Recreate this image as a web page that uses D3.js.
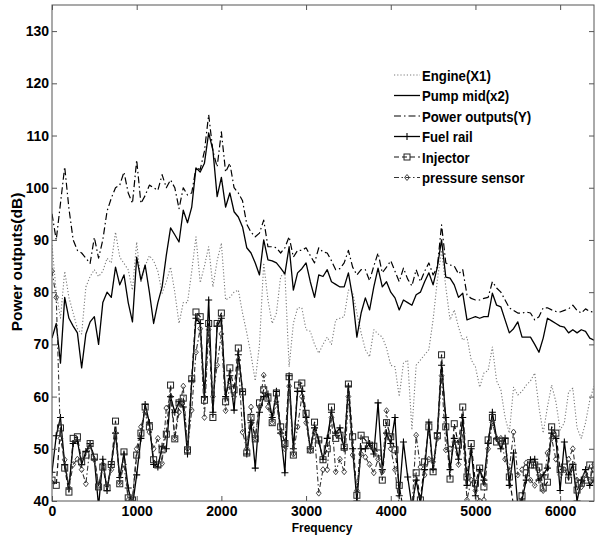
<!DOCTYPE html>
<html><head><meta charset="utf-8">
<script src="https://cdn.jsdelivr.net/npm/d3@7/dist/d3.min.js"></script>
<style>
html,body{margin:0;padding:0;background:#fff;}
svg{display:block;}
text{font-family:"Liberation Sans",Arial,Helvetica,sans-serif;font-weight:bold;fill:#000;}
</style></head>
<body>
<svg id="chart" width="597" height="538"></svg>
<script>
// Frequency grid (Hz), one sample every 50 Hz from 0 to 6400
const frequencies = d3.range(0, 6401, 50);
const xTicks = [0, 1000, 2000, 3000, 4000, 5000, 6000];
const yTicks = [40, 50, 60, 70, 80, 90, 100, 110, 120, 130];
const seriesNames = ["Engine(X1)", "Pump mid(x2)", "Power outputs(Y)", "Fuel rail", "Injector", "pressure sensor"];

const engine = [
  89, 80, 75, 84, 79, 76, 73, 72, 81, 83,
  84.3, 83, 84, 86.5, 85.6, 91.5, 86.7, 85.5, 84.3, 80.4,
  89.6, 81.8, 85, 87, 86, 84, 79.8, 82, 84.8, 80,
  74, 78, 78, 84, 90.6, 81.8, 85, 88.7, 81, 86,
  89.4, 78.5, 79, 80, 80.4, 76, 72.2, 68, 63, 70,
  85.6, 78.5, 74, 76, 83, 83.7, 65.7, 74, 77, 77,
  72.8, 72.5, 70, 68.3, 70, 71.4, 70, 74.7, 75, 75.3,
  80.4, 80, 76, 72.2, 69, 67.6, 72.8, 72, 71.4, 69.3,
  66, 65.7, 60, 66.4, 67, 53.6, 66, 67, 68, 69,
  74.7, 82.3, 88, 81, 74.7, 76.6, 73.3, 70.8, 71.4, 67,
  65.7, 61.8, 64.5, 65, 69.5, 63, 61.3, 56, 53, 61.8,
  60.3, 61, 62.2, 63, 64.5, 58, 53, 58, 62.2, 59,
  53.6, 55, 60.9, 61.6, 54, 52, 55, 59.3, 62
];
const pumpMid = [
  71.2, 74, 66.4, 79, 75, 73.5, 72.2, 65.5, 72, 74.3,
  75.3, 70, 78, 80, 79, 84.8, 81.4, 83.3, 78, 74.3,
  86.7, 82.3, 85.2, 80, 74, 78, 81, 87.1, 92.3, 91,
  89.6, 95.7, 93.3, 96.3, 103.8, 103, 104.7, 110.5, 107.2, 98.3,
  102, 96.3, 99, 95.4, 94.4, 92.5, 88.5, 87.5, 85.6, 83.3,
  90, 86.2, 86, 85.6, 84.6, 83.5, 88.7, 80.4, 83.7, 84.5,
  85.6, 82, 79, 83.3, 83, 84.3, 82, 81.5, 81, 81,
  83.7, 79, 71.4, 76, 78.9, 76.6, 81, 84.6, 81, 82,
  80, 78.9, 76.6, 78.5, 78, 77.5, 79.5, 80, 82, 83.7,
  81.4, 84.8, 90, 82.9, 82.7, 81.4, 79, 79.8, 74.7, 75,
  75.3, 75, 75.3, 75.3, 79.8, 77.5, 77.2, 74.7, 72.2, 73,
  74.3, 71.4, 71.4, 71.4, 70, 68.5, 71.2, 75, 74.5, 74,
  73.5, 73.3, 72.2, 72.8, 72.2, 72.8, 72.5, 71.2, 70.8
];
const powerOutputs = [
  95, 90, 97, 104, 96, 90, 88, 87.5, 86.5, 85.5,
  90.5, 86.5, 90, 95.5, 98, 100, 100.5, 103, 99, 97,
  105.3, 97, 98.5, 100.5, 100, 99.5, 102.5, 100, 101.5, 100,
  96, 100, 98.6, 99, 103.8, 103.5, 107, 114, 107, 104,
  110.7, 103, 104.7, 100, 99, 97.5, 93, 91.5, 90.6, 91.3,
  93.8, 88.7, 88.7, 88.5, 87.5, 88.5, 90.6, 86.7, 88, 88,
  88.5, 87, 85.6, 88.5, 87.7, 87.5, 86, 84.3, 84.5, 85.6,
  88, 84.8, 83.3, 84.3, 84.3, 82.2, 85, 87.5, 83.7, 84.8,
  86, 84, 82, 84.6, 82.5, 81.2, 84.3, 82, 84, 85.6,
  83.3, 84.8, 92.9, 85.6, 85.2, 85, 83.5, 84.3, 79.5, 78.8,
  78.5, 78.5, 78.8, 79, 82, 80.8, 80, 78.5, 77, 76.5,
  76, 76, 76.2, 76, 74.7, 75.3, 77, 77, 76.6, 76.3,
  76.2, 76.5, 76.8, 77.5, 76.5, 76, 76.8, 76.3, 76.2
];
const fuelRail = [
  45.5, 52.5, 56, 47, 42.5, 51, 51.5, 47, 49.5, 51,
  48, 39, 48, 42, 47, 53, 44.5, 49, 42.5, 39,
  45, 52, 58.5, 55, 47, 46.5, 50.5, 50, 60, 57,
  59, 58, 49, 63, 75, 74, 60, 78.5, 57, 73.5,
  75, 60, 64, 57.4, 68, 61, 49, 55, 46.3, 57,
  60, 60.5, 56, 61, 53, 45.4, 64, 50, 61, 61,
  56, 50, 54, 51.5, 48, 52, 57, 53, 54, 50,
  62, 50, 40, 50, 50, 51, 49, 58.8, 46, 53,
  51, 56, 41, 51.3, 44.6, 39, 44, 39.5, 46, 55.1,
  46, 53, 66, 56, 46, 52, 48, 56, 43, 50,
  41, 46, 44, 51, 57, 52, 50, 52, 43, 49.2,
  39, 40.2, 44, 47.9, 48, 44, 45, 46.3, 53, 52,
  42, 51.3, 45, 47, 40, 44, 46, 43, 44
];
const injector = [
  44, 43, 54, 46.3, 41.7, 52, 52.3, 47.5, 48.8, 51,
  48.4, 42.7, 46.5, 42.5, 47, 55.3, 43.3, 49.4, 40.6, 40.2,
  48.8, 53, 58, 54.2, 47.9, 46.9, 49.8, 52.8, 62.2, 51.9,
  58.8, 59.7, 49.8, 63.4, 76.2, 75.3, 59.3, 74, 56, 74,
  76, 59, 65.5, 61.3, 69.3, 60.9, 49.2, 56, 51.9, 58.8,
  61.3, 59.7, 55, 60.7, 54.2, 51, 63.8, 48.8, 62.2, 62.6,
  56.8, 49.8, 55.1, 51.7, 47.9, 50, 58, 52, 52.6, 50.3,
  62.4, 52.3, 41.1, 52.6, 51.7, 50.7, 50.5, 49.2, 44, 55,
  52.3, 49.8, 43, 38, 36, 37, 45.4, 40.2, 47.5, 54.2,
  45.6, 52.5, 68, 54.2, 44.2, 54.8, 50.7, 58, 44.6, 51,
  43.4, 46.3, 42.7, 51.7, 56, 51.3, 51.5, 51.5, 44.6, 39,
  38, 41, 45.4, 46.9, 46.9, 46.5, 42.5, 43.6, 54.2, 53,
  46, 46.5, 44, 46.5, 42.1, 43.4, 44, 46.9, 45
];
const pressureSensor = [
  84, 79, 52, 47.9, 42.5, 47, 48, 46, 43.3, 50.5,
  47.9, 43, 47, 43, 46, 53, 43.5, 47, 40.2, 40,
  50, 54.2, 57, 53.2, 50, 52, 47.2, 57.8, 60, 52,
  57, 62, 50, 57.4, 68.5, 73, 56, 72.8, 60, 66,
  72, 57.3, 62, 60, 67, 53.2, 50, 58, 52, 58,
  64.1, 58, 55, 59, 53, 50, 62, 49, 54.2, 60,
  55, 49.6, 53, 41.5, 46, 46, 56, 45.6, 48, 45.6,
  60, 48.8, 42, 49, 48.4, 47, 45.4, 48, 45.6, 57.3,
  50, 46, 39, 37, 36, 38, 52.6, 46.5, 45, 48,
  47.5, 52, 64, 49.8, 50, 51.3, 47, 53, 40.2, 44,
  42, 40, 40.2, 50, 55, 52, 52, 48, 46, 53.2,
  45, 46, 47.3, 44, 43, 45, 42, 49.2, 52, 48,
  45, 46, 48, 50, 44, 42.7, 45, 44, 47
];

const W = 597, H = 538;
const plot = {left: 52, right: 594, top: 5, bottom: 501};
const svg = d3.select("#chart");

const x = d3.scaleLinear().domain([0, 6400]).range([plot.left, plot.right]);
const y = d3.scaleLinear().domain([40, 135]).range([plot.bottom, plot.top]);

svg.append("defs").append("clipPath").attr("id", "clip")
  .append("rect").attr("x", plot.left).attr("y", plot.top)
  .attr("width", plot.right - plot.left).attr("height", plot.bottom - plot.top);

const series = [
  {name: seriesNames[0], values: engine, stroke: "#7a7a7a", width: 1.1, dash: "1.2,2", marker: null},
  {name: seriesNames[1], values: pumpMid, stroke: "#000", width: 1.3, dash: null, marker: null},
  {name: seriesNames[2], values: powerOutputs, stroke: "#000", width: 1.2, dash: "7,3,1.5,3", marker: null},
  {name: seriesNames[3], values: fuelRail, stroke: "#000", width: 1.3, dash: null, marker: "plus"},
  {name: seriesNames[4], values: injector, stroke: "#111", width: 1.2, dash: "5,3", marker: "square"},
  {name: seriesNames[5], values: pressureSensor, stroke: "#333", width: 1.1, dash: "5,2.5,1.5,2.5", marker: "diamond"}
];

const line = d3.line().x(d => x(d[0])).y(d => y(d[1]));
const g = svg.append("g").attr("clip-path", "url(#clip)");

function drawMarker(sel, type, size) {
  const h = size / 2;
  if (type === "square") {
    sel.append("rect").attr("x", -h).attr("y", -h).attr("width", size).attr("height", size)
      .attr("fill", "none").attr("stroke", "#222").attr("stroke-width", 1);
  } else if (type === "diamond") {
    sel.append("path").attr("d", `M0,${-h}L${h*0.8},0L0,${h}L${-h*0.8},0Z`)
      .attr("fill", "none").attr("stroke", "#444").attr("stroke-width", 1);
  } else if (type === "plus") {
    sel.append("path").attr("d", `M${-h},0H${h}M0,${-h}V${h}`)
      .attr("fill", "none").attr("stroke", "#000").attr("stroke-width", 1.1);
  }
}

series.forEach(s => {
  const pts = frequencies.map((f, i) => [f, s.values[i]]);
  g.append("path").datum(pts).attr("d", line)
    .attr("fill", "none").attr("stroke", s.stroke).attr("stroke-width", s.width)
    .attr("stroke-dasharray", s.dash).attr("stroke-linejoin", "round");
  if (s.marker) {
    const mg = g.append("g");
    pts.forEach(p => {
      const m = mg.append("g").attr("transform", `translate(${x(p[0])},${y(p[1])})`);
      drawMarker(m, s.marker, s.marker === "plus" ? 7 : 6);
    });
  }
});

// Frame and inward ticks
const axisColor = "#555";
svg.append("rect").attr("x", plot.left).attr("y", plot.top)
  .attr("width", plot.right - plot.left).attr("height", plot.bottom - plot.top)
  .attr("fill", "none").attr("stroke", axisColor).attr("stroke-width", 1);

const axB = d3.axisBottom(x).tickValues(xTicks).tickSizeInner(-5).tickSizeOuter(0).tickPadding(5).tickFormat(d3.format("d"));
const axT = d3.axisTop(x).tickValues(xTicks).tickSizeInner(-5).tickSizeOuter(0).tickFormat("");
const axL = d3.axisLeft(y).tickValues(yTicks).tickSizeInner(-5).tickSizeOuter(0).tickPadding(3).tickFormat(d3.format("d"));
const axR = d3.axisRight(y).tickValues(yTicks).tickSizeInner(-5).tickSizeOuter(0).tickFormat("");

function styleAxis(sel) {
  sel.select(".domain").remove();
  sel.selectAll(".tick line").attr("stroke", axisColor);
  sel.selectAll("text").style("font-size", "14px").style("font-weight", "bold")
    .style("font-family", '"Liberation Sans", Arial, sans-serif').attr("fill", "#000");
}
svg.append("g").attr("transform", `translate(0,${plot.bottom})`).call(axB).call(styleAxis);
svg.append("g").attr("transform", `translate(0,${plot.top})`).call(axT).call(styleAxis);
svg.append("g").attr("transform", `translate(${plot.left},0)`).call(axL).call(styleAxis);
svg.append("g").attr("transform", `translate(${plot.right},0)`).call(axR).call(styleAxis);

// Axis titles
svg.append("text").attr("x", 322).attr("y", 532)
  .attr("text-anchor", "middle").style("font-size", "12px").text("Frequency");
svg.append("text").attr("transform", `translate(22,262) rotate(-90)`)
  .attr("text-anchor", "middle").style("font-size", "15.5px").text("Power outputs(dB)");

// Legend
const legend = svg.append("g");
const legX0 = 394, legX1 = 420, legY0 = 75, legDY = 20.5;
series.forEach((s, i) => {
  const yy = legY0 + i * legDY;
  legend.append("line").attr("x1", legX0).attr("x2", legX1).attr("y1", yy).attr("y2", yy)
    .attr("stroke", s.stroke).attr("stroke-width", s.width).attr("stroke-dasharray", s.dash);
  if (s.marker) {
    const m = legend.append("g").attr("transform", `translate(${(legX0 + legX1) / 2},${yy})`);
    drawMarker(m, s.marker, s.marker === "plus" ? 7 : 6);
  }
  legend.append("text").attr("transform", `translate(${legX1 + 2},${yy + 5.5}) scale(0.88,1)`)
    .style("font-size", "15px").text(s.name);
});
</script>
</body></html>
